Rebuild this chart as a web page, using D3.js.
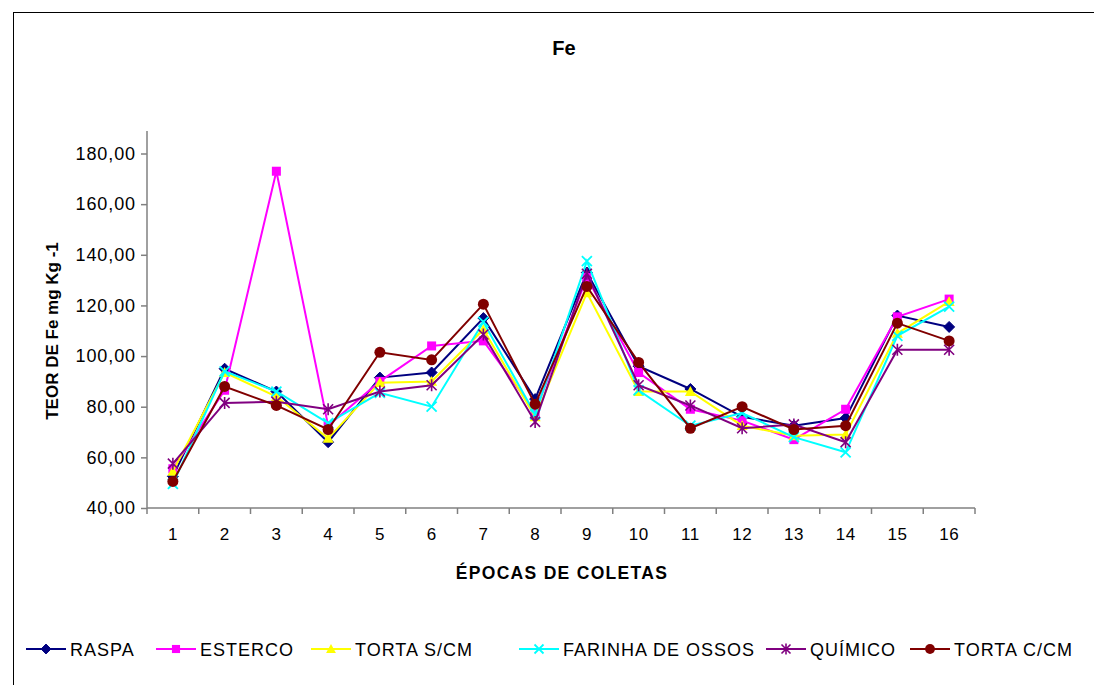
<!DOCTYPE html>
<html><head><meta charset="utf-8">
<script src="https://cdn.jsdelivr.net/npm/d3@7"></script>
<style>html,body{margin:0;padding:0;background:#fff;overflow:hidden}svg{display:block}text{font-family:"Liberation Sans",Arial,sans-serif}</style>
</head><body>
<svg id="c" width="1094" height="685"></svg>
<script>
const categories = ["1","2","3","4","5","6","7","8","9","10","11","12","13","14","15","16"];
const raspa     = [52.5, 95, 86, 66, 91.5, 93.5, 115, 83, 133, 96, 87, 76, 72.5, 75.5, 116, 111.5];
const esterco   = [55.5, 86.5, 173, 72.5, 90, 104, 106, 78, 131, 93.5, 79, 74.5, 67, 79, 115.5, 122.5];
const tortaSCM  = [54.5, 93.5, 84, 67.5, 89.5, 90, 110.5, 76, 125, 86, 86, 72.5, 68.5, 69, 109, 121.5];
const farinha   = [49.5, 94, 86, 73.5, 85.5, 80, 113.5, 77, 137.5, 86.5, 72.5, 77.5, 68, 62, 108, 119.5];
const quimico   = [57.5, 81.5, 82, 79, 86, 88.5, 108.5, 74, 132.5, 88.5, 80.5, 71.5, 73, 66, 102.5, 102.5];
const tortaCCM  = [50.5, 88, 80.5, 71, 101.5, 98.5, 120.5, 81, 127.5, 97.5, 71.5, 80, 71, 72.5, 113, 106];
const seriesNames = ["RASPA","ESTERCO","TORTA S/CM","FARINHA DE OSSOS","QUÍMICO","TORTA C/CM"];
const yTicks = [40, 60, 80, 100, 120, 140, 160, 180];
const title = "Fe", yTitle = "TEOR DE Fe mg Kg -1", xTitle = "ÉPOCAS DE COLETAS";

const series = [
  {name: seriesNames[0], values: raspa,    color: "#000080", marker: "diamond"},
  {name: seriesNames[1], values: esterco,  color: "#FF00FF", marker: "square"},
  {name: seriesNames[2], values: tortaSCM, color: "#FFFF00", marker: "triangle"},
  {name: seriesNames[3], values: farinha,  color: "#00FFFF", marker: "x"},
  {name: seriesNames[4], values: quimico,  color: "#800080", marker: "star"},
  {name: seriesNames[5], values: tortaCCM, color: "#800000", marker: "circle"}
];

const svg = d3.select("#c");
svg.append("rect").attr("x",13.5).attr("y",12.5).attr("width",1100).attr("height",700)
  .attr("fill","#fff").attr("stroke","#000").attr("stroke-width",1);

const L = 147, R = 975, T = 131, B = 508;
const x = d3.scaleBand().domain(categories).range([L, R]);
const y = d3.scaleLinear().domain([40, 180]).range([B, 153.5]);

const yAxis = d3.axisLeft(y).tickValues(yTicks).tickSize(6).tickPadding(5)
  .tickFormat(d => d3.format(".2f")(d).replace(".", ","));
const gy = svg.append("g").attr("transform", `translate(${L},0)`).call(yAxis);
gy.select(".domain").remove();
gy.selectAll("line").attr("stroke","#808080").attr("stroke-width",1.5);
gy.selectAll("text").attr("font-size",18).attr("letter-spacing",0.9).attr("fill","#000");
svg.append("line").attr("x1",L).attr("x2",L).attr("y1",T).attr("y2",B)
  .attr("stroke","#808080").attr("stroke-width",1.5);

const gx = svg.append("g").attr("transform", `translate(0,${B})`)
  .call(d3.axisBottom(x).tickSize(0).tickPadding(20));
gx.select(".domain").remove();
gx.selectAll("text").attr("font-size",17).attr("letter-spacing",0.5).attr("fill","#000");
svg.append("line").attr("x1",L).attr("x2",R).attr("y1",B).attr("y2",B)
  .attr("stroke","#808080").attr("stroke-width",1.5);
const bounds = categories.map(c => x(c)).concat([R]);
svg.append("g").selectAll("line").data(bounds).join("line")
  .attr("x1", d => d).attr("x2", d => d).attr("y1", B).attr("y2", B + 6)
  .attr("stroke","#808080").attr("stroke-width",1.5);

svg.append("text").attr("x",564).attr("y",55).attr("text-anchor","middle")
  .attr("font-size",20).attr("font-weight","bold").text(title);
svg.append("text").attr("x",562).attr("y",579).attr("text-anchor","middle")
  .attr("font-size",17.5).attr("letter-spacing",1.3).attr("font-weight","bold").text(xTitle);
svg.append("text").attr("transform",`translate(58,${331}) rotate(-90)`).attr("text-anchor","middle")
  .attr("font-size",17).attr("font-weight","bold").text(yTitle);

function drawMarker(g, type, cx, cy, color, s) {
  s = s || 1;
  if (type === "diamond") {
    const r = 5.5*s;
    g.append("path").attr("d",`M${cx},${cy-r}L${cx+r},${cy}L${cx},${cy+r}L${cx-r},${cy}Z`).attr("fill",color).attr("stroke",color);
  } else if (type === "square") {
    const r = 4.5*s;
    g.append("rect").attr("x",cx-r).attr("y",cy-r).attr("width",2*r).attr("height",2*r).attr("fill",color);
  } else if (type === "triangle") {
    const r = 5.5*s;
    g.append("path").attr("d",`M${cx},${cy-r}L${cx+r},${cy+r*0.8}L${cx-r},${cy+r*0.8}Z`).attr("fill",color);
  } else if (type === "x") {
    const r = 5*s;
    g.append("path").attr("d",`M${cx-r},${cy-r}L${cx+r},${cy+r}M${cx-r},${cy+r}L${cx+r},${cy-r}`).attr("stroke",color).attr("stroke-width",1.8);
  } else if (type === "star") {
    const r = 5*s;
    g.append("path").attr("d",`M${cx-r},${cy-r}L${cx+r},${cy+r}M${cx-r},${cy+r}L${cx+r},${cy-r}M${cx},${cy-r*1.2}L${cx},${cy+r*1.2}`).attr("stroke",color).attr("stroke-width",1.6);
  } else if (type === "circle") {
    g.append("circle").attr("cx",cx).attr("cy",cy).attr("r",5.5*s).attr("fill",color);
  }
}

const line = d3.line().x((d,i) => x(categories[i]) + x.bandwidth()/2).y(d => y(d));
series.forEach(s => {
  const g = svg.append("g");
  g.append("path").attr("d", line(s.values)).attr("fill","none").attr("stroke", s.color).attr("stroke-width",2);
  s.values.forEach((v,i) => drawMarker(g, s.marker, x(categories[i]) + x.bandwidth()/2, y(v), s.color, 1));
});

const legX = [26, 156, 311, 519, 766, 910];
const legY = 649;
series.forEach((s,i) => {
  const g = svg.append("g");
  g.append("line").attr("x1",legX[i]).attr("x2",legX[i]+40).attr("y1",legY).attr("y2",legY)
    .attr("stroke",s.color).attr("stroke-width",2);
  drawMarker(g, s.marker, legX[i]+20, legY, s.color, 0.9);
  g.append("text").attr("x",legX[i]+44).attr("y",legY+6.5).attr("font-size",18).attr("letter-spacing",1).text(s.name);
});
</script>
</body></html>
